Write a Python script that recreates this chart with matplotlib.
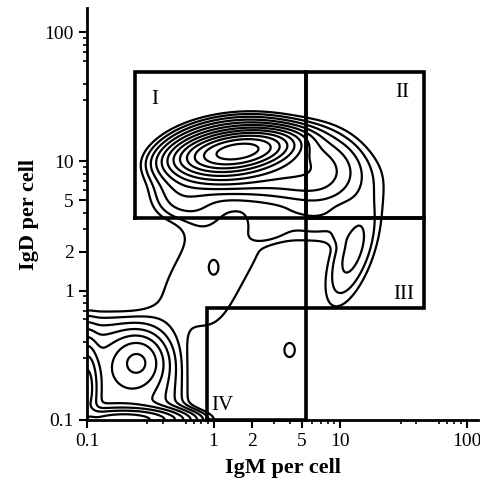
import numpy as np
import matplotlib
matplotlib.use("Agg")
import matplotlib.pyplot as plt
from matplotlib.ticker import FixedLocator, FixedFormatter, NullFormatter

# density model of the cell populations (log10 IgM, log10 IgD)
#          core   body   halo   lowlft bulge  tail   bridge shelf  BLsq   BLbump Lwall  Bwall  isl4   isl1
pop_u   = [0.20,  0.12,  0.45, -0.25,  0.85,  1.10,  0.00,  0.65, -1.00, -0.60, -1.00, -0.70,  0.60,  0.00]
pop_v   = [1.08,  1.05,  0.97,  0.72,  0.90,  0.30,  0.20,  0.50, -1.00, -0.55, -0.75, -1.00, -0.46,  0.18]
pop_su  = [0.20,  0.24,  0.36,  0.16,  0.20,  0.11,  0.50,  0.30,  0.55,  0.12,  0.05,  0.25,  0.045, 0.03]
pop_sv  = [0.065, 0.11,  0.16,  0.13,  0.20,  0.30,  0.30,  0.12,  0.58,  0.12,  0.18,  0.05,  0.06,  0.045]
pop_rot = [8,     8,    -5,     0,     0,    -20,    61,     0,     0,     0,     0,     0,     0,     0]
pop_pow = [2,     2,     2,     2,     2,     2,     4,     4,     4,     2,     2,     2,     2,     2]
pop_amp = [0.75,  0.2,   0.04,  0.012, 0.015, 0.012, 0.0055, 0.005, 0.035, 0.05, 0.1,   0.2,   0.006, 0.002]

levels = [0.004 * 1.6 ** k for k in range(12)]

# gates (IgM range, IgD range)
gate_I   = [(0.24, 5.4), (3.65, 49)]
gate_II  = [(5.4, 46), (3.65, 49)]
gate_III = [(5.4, 46), (0.73, 3.65)]
gate_IV  = [(0.89, 5.4), (0.1, 0.73)]
gate_names = ["I", "II", "III", "IV"]
label_xy = [(0.34, 30), (31, 34), (32, 0.93), (1.17, 0.13)]

ticks = [0.1, 1, 2, 5, 10, 100]
tick_labels = ["0.1", "1", "2", "5", "10", "100"]

u = np.linspace(-1.0, 2.1, 500)
v = np.linspace(-1.0, 2.2, 500)
U, V = np.meshgrid(u, v)
Z = np.zeros_like(U)
for cu, cv, su, sv, rot, n, a in zip(pop_u, pop_v, pop_su, pop_sv, pop_rot, pop_pow, pop_amp):
    t = np.deg2rad(rot)
    du, dv = U - cu, V - cv
    p = du * np.cos(t) + dv * np.sin(t)
    q = -du * np.sin(t) + dv * np.cos(t)
    Z += a * np.exp(-0.5 * (np.abs(p / su) ** n + np.abs(q / sv) ** n))

plt.rcParams['font.family'] = ['Liberation Serif']
fig = plt.figure(figsize=(4.81, 4.82), dpi=100)
ax = fig.add_axes([0.181, 0.129, 0.813, 0.854])
ax.contour(10 ** U, 10 ** V, Z, levels=levels, colors="black", linewidths=1.6)

for (xr, yr) in [gate_I, gate_II, gate_III, gate_IV]:
    ax.plot([xr[0], xr[1], xr[1], xr[0], xr[0]], [yr[0], yr[0], yr[1], yr[1], yr[0]],
            color="black", lw=2.6, solid_joinstyle="miter", clip_on=False)
for name, (lx, ly) in zip(gate_names, label_xy):
    ax.text(lx, ly, name, fontsize=15, ha="center", va="center")

ax.set_xscale("log")
ax.set_yscale("log")
ax.set_xlim(0.1, 123)
ax.set_ylim(0.1, 153)
for axis in [ax.xaxis, ax.yaxis]:
    axis.set_major_locator(FixedLocator(ticks))
    axis.set_major_formatter(FixedFormatter(tick_labels))
    axis.set_minor_locator(FixedLocator([m * 10.0 ** e for e in range(-1, 3)
                                         for m in range(2, 10) if m not in (2, 5)]))
    axis.set_minor_formatter(NullFormatter())
ax.spines["top"].set_visible(False)
ax.spines["right"].set_visible(False)
for s in ["left", "bottom"]:
    ax.spines[s].set_linewidth(2)
ax.tick_params(which="major", length=6, width=1.5, labelsize=14)
ax.tick_params(which="minor", length=3, width=1.2)
ax.set_xlabel("IgM per cell", fontsize=16, fontweight="bold", labelpad=6)
ax.set_ylabel("IgD per cell", fontsize=16, fontweight="bold", labelpad=4)

fig.savefig("out.png", dpi=100)
